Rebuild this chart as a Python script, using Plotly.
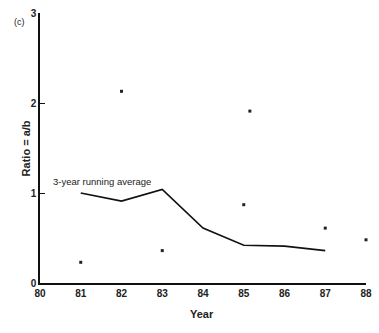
import plotly.graph_objects as go

# Data
line_years = [81, 82, 83, 84, 85, 86, 87]
running_avg = [1.0, 0.91, 1.04, 0.61, 0.42, 0.41, 0.36]

point_years = [81, 82, 83, 85.15, 85, 87, 88]
ratios = [0.23, 2.13, 0.36, 1.91, 0.87, 0.61, 0.48]

x_ticks = [80, 81, 82, 83, 84, 85, 86, 87, 88]
y_ticks = [0, 1, 2, 3]

font_family = "Liberation Sans, Arial, sans-serif"

fig = go.Figure()
fig.add_trace(go.Scatter(
    x=line_years, y=running_avg, mode="lines",
    line=dict(color="#111", width=1.6), hoverinfo="skip", cliponaxis=False,
))
fig.add_trace(go.Scatter(
    x=point_years, y=ratios, mode="markers",
    marker=dict(color="#222", size=3, symbol="square"), hoverinfo="skip", cliponaxis=False,
))

plot_w = 379 - 40 - 7
plot_h = 333 - 13 - 50


def px_x(px):
    return (px - 40) / plot_w


def px_y(py):
    return (333 - 50 - py) / plot_h


fig.update_layout(
    width=379, height=333,
    margin=dict(l=40, r=7, t=13, b=50),
    paper_bgcolor="white", plot_bgcolor="white",
    showlegend=False,
    font=dict(family=font_family, color="#111"),
    xaxis=dict(
        range=[80, 88], tickvals=x_ticks, ticktext=["<b>%d</b>" % v for v in x_ticks],
        showgrid=False, zeroline=False, showline=True, linecolor="#111", linewidth=1.5,
        ticks="", tickfont=dict(size=10, family=font_family, color="#222"),
    ),
    yaxis=dict(
        range=[0, 3], tickvals=y_ticks, ticktext=["<b>%d</b>" % v for v in y_ticks],
        showgrid=False, zeroline=False, showline=True, linecolor="#111", linewidth=1.5,
        ticks="inside", ticklen=5, tickcolor="#111", tickwidth=1.2,
        tickfont=dict(size=10, family=font_family, color="#222"),
    ),
    annotations=[
        dict(text="3-year running average", x=80.28, y=1.13, xref="x", yref="y",
             xanchor="left", yanchor="middle", showarrow=False,
             font=dict(size=9.5, family=font_family, color="#222")),
        dict(text="<b>Year</b>", x=px_x(205), y=px_y(322), xref="paper", yref="paper",
             showarrow=False, font=dict(size=11, family=font_family, color="#222")),
        dict(text="<b>Ratio = a/b</b>", x=px_x(18), y=px_y(148), xref="paper", yref="paper",
             showarrow=False, textangle=-90,
             font=dict(size=11, family=font_family, color="#222")),
        dict(text="(c)", x=px_x(11), y=px_y(15), xref="paper", yref="paper",
             showarrow=False, font=dict(size=9, family=font_family, color="#222")),
    ],
)

fig.write_html("out.html")
